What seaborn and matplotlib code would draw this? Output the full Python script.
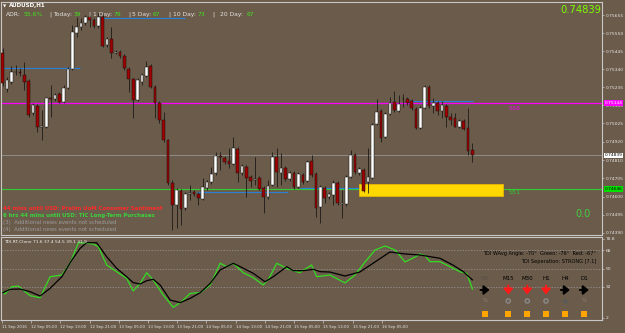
import matplotlib
matplotlib.use('Agg')
import matplotlib.pyplot as plt
import matplotlib.transforms as mtrans
from matplotlib.patches import Rectangle
import numpy as np
import pandas as pd
import seaborn as sns

# ---------------- data ----------------
symbol = 'AUDUSD,H1'
opens = [0.75436, 0.75226, 0.75267, 0.75325, 0.75327, 0.75307, 0.75273, 0.75086, 0.75127, 0.75005,
         0.75005, 0.75174, 0.75168, 0.75197, 0.75150, 0.75232, 0.75342, 0.75552, 0.75587, 0.75610,
         0.75645, 0.75628, 0.75593, 0.75645, 0.75482, 0.75517, 0.75436, 0.75441, 0.75418, 0.75342,
         0.75284, 0.75162, 0.75267, 0.75302, 0.75360, 0.75238, 0.75145, 0.75046, 0.74929, 0.74679,
         0.74551, 0.74632, 0.74533, 0.74615, 0.74627, 0.74615, 0.74586, 0.74650, 0.74685, 0.74737,
         0.74836, 0.74824, 0.74807, 0.74789, 0.74877, 0.74737, 0.74772, 0.74714, 0.74696, 0.74708,
         0.74650, 0.74597, 0.74667, 0.74830, 0.74737, 0.74766, 0.74702, 0.74737, 0.74656, 0.74726,
         0.74690, 0.74807, 0.74731, 0.74539, 0.74650, 0.74597, 0.74609, 0.74679, 0.74557, 0.74557,
         0.74714, 0.74842, 0.74737, 0.74755, 0.74685, 0.74708, 0.75022, 0.75098, 0.74947, 0.75081,
         0.75150, 0.75098, 0.75165, 0.75168, 0.75156, 0.75110, 0.74999, 0.75115, 0.75238, 0.75127,
         0.75145, 0.75098, 0.75127, 0.75063, 0.75057, 0.75005, 0.75040, 0.74999, 0.74871]
highs = [0.75465, 0.75296, 0.75360, 0.75366, 0.75348, 0.75383, 0.75284, 0.75145, 0.75139, 0.75104,
         0.75179, 0.75249, 0.75203, 0.75209, 0.75249, 0.75354, 0.75598, 0.75645, 0.75639, 0.75657,
         0.75657, 0.75639, 0.75668, 0.75663, 0.75529, 0.75587, 0.75453, 0.75453, 0.75430, 0.75354,
         0.75290, 0.75290, 0.75319, 0.75389, 0.75371, 0.75249, 0.75156, 0.75092, 0.74935, 0.74696,
         0.74650, 0.74644, 0.74627, 0.74667, 0.74638, 0.74627, 0.74708, 0.74696, 0.74772, 0.74859,
         0.74859, 0.74836, 0.74883, 0.74947, 0.74889, 0.74789, 0.74784, 0.74726, 0.74830, 0.74720,
         0.74661, 0.74696, 0.74859, 0.74883, 0.74854, 0.74778, 0.74749, 0.74749, 0.74743, 0.74737,
         0.74813, 0.74842, 0.74743, 0.74667, 0.74661, 0.74627, 0.74696, 0.74690, 0.74638, 0.74726,
         0.74871, 0.74854, 0.74772, 0.74766, 0.74883, 0.75028, 0.75168, 0.75110, 0.75092, 0.75179,
         0.75214, 0.75191, 0.75197, 0.75179, 0.75168, 0.75121, 0.75127, 0.75249, 0.75249, 0.75174,
         0.75156, 0.75156, 0.75139, 0.75086, 0.75086, 0.75052, 0.75052, 0.75115, 0.74912]
lows = [0.75244, 0.75209, 0.75255, 0.75307, 0.75302, 0.75220, 0.75063, 0.75075, 0.74976, 0.74929,
        0.74999, 0.75063, 0.75156, 0.75145, 0.75145, 0.75226, 0.75337, 0.75529, 0.75569, 0.75598,
        0.75587, 0.75581, 0.75581, 0.75470, 0.75470, 0.75406, 0.75430, 0.75406, 0.75337, 0.75209,
        0.75057, 0.75156, 0.75249, 0.75296, 0.75232, 0.75057, 0.75028, 0.74918, 0.74667, 0.74405,
        0.74417, 0.74435, 0.74522, 0.74580, 0.74603, 0.74551, 0.74580, 0.74638, 0.74673, 0.74726,
        0.74755, 0.74789, 0.74766, 0.74784, 0.74685, 0.74726, 0.74597, 0.74656, 0.74667, 0.74638,
        0.74504, 0.74586, 0.74661, 0.74656, 0.74667, 0.74690, 0.74690, 0.74644, 0.74650, 0.74673,
        0.74685, 0.74714, 0.74481, 0.74446, 0.74563, 0.74586, 0.74551, 0.74551, 0.74475, 0.74545,
        0.74708, 0.74731, 0.74726, 0.74627, 0.74621, 0.74702, 0.75017, 0.74918, 0.74941, 0.75075,
        0.75092, 0.75092, 0.75121, 0.75133, 0.75104, 0.74993, 0.74993, 0.75110, 0.75115, 0.75086,
        0.75075, 0.75057, 0.75005, 0.75017, 0.75005, 0.74999, 0.74987, 0.74842, 0.74801]
closes = [0.75261, 0.75278, 0.75325, 0.75327, 0.75319, 0.75267, 0.75075, 0.75133, 0.75005, 0.75011,
          0.75174, 0.75168, 0.75191, 0.75150, 0.75232, 0.75342, 0.75558, 0.75587, 0.75610, 0.75645,
          0.75628, 0.75593, 0.75645, 0.75476, 0.75517, 0.75436, 0.75441, 0.75418, 0.75348, 0.75284,
          0.75162, 0.75278, 0.75307, 0.75354, 0.75238, 0.75145, 0.75046, 0.74929, 0.74679, 0.74551,
          0.74638, 0.74527, 0.74615, 0.74621, 0.74615, 0.74592, 0.74656, 0.74685, 0.74731, 0.74836,
          0.74830, 0.74801, 0.74789, 0.74883, 0.74737, 0.74778, 0.74708, 0.74690, 0.74702, 0.74644,
          0.74597, 0.74661, 0.74830, 0.74743, 0.74766, 0.74702, 0.74737, 0.74656, 0.74731, 0.74685,
          0.74801, 0.74726, 0.74533, 0.74656, 0.74592, 0.74615, 0.74679, 0.74563, 0.74563, 0.74714,
          0.74842, 0.74743, 0.74760, 0.74632, 0.74714, 0.75017, 0.75092, 0.74941, 0.75081, 0.75145,
          0.75104, 0.75139, 0.75168, 0.75145, 0.75115, 0.74999, 0.75115, 0.75238, 0.75127, 0.75145,
          0.75098, 0.75133, 0.75063, 0.75046, 0.75005, 0.75040, 0.74993, 0.74865, 0.74839]

last_price = 0.74839
res_level = 0.75144
sup_level = 0.74646
zone_low, zone_high = 0.74603, 0.74673
zone_from, zone_to = 81.9, 115.0
res_label, sup_label = 'S38', 'S51'
blue_prices = [0.75639, 0.75350, 0.74627, 0.74650, 0.75158]
blue_from = [21.7, -0.6, 44.7, 68.4, 93.6]
blue_to = [41.9, 17.8, 65.6, 89.7, 108.1]

price_ticks = [0.75655, 0.75550, 0.75445, 0.75340, 0.75235, 0.75130, 0.75025,
               0.74920, 0.74810, 0.74705, 0.74600, 0.74495, 0.74390]
time_labels = ['11 Sep 2016', '12 Sep 05:00', '12 Sep 13:00', '12 Sep 21:00', '13 Sep 05:00',
               '13 Sep 13:00', '13 Sep 21:00', '14 Sep 05:00', '14 Sep 13:00', '14 Sep 21:00',
               '15 Sep 05:00', '15 Sep 13:00', '15 Sep 21:00', '16 Sep 05:00']

tdi_green_x = [0, 0.5, 2.1, 3.6, 4.7, 6.3, 8.6, 10.9, 13.6, 15.5, 17.4, 19.3, 20.8, 22.0, 23.9, 26.2,
               28.5, 30.0, 31.6, 33.1, 34.6, 36.9, 39.2, 41.1, 43.1, 45.4, 47.7, 50.0, 51.5, 53.0,
               55.3, 57.6, 59.9, 61.1, 63.0, 65.3, 68.3, 71.0, 72.2, 75.2, 78.7, 81.0, 83.3, 85.6,
               87.9, 90.2, 92.5, 94.8, 95.9, 97.1, 98.2, 100.5, 102.8, 105.1, 106.7, 108.0]
tdi_green = [27.4, 25.1, 32.3, 32.9, 29.0, 23.5, 21.5, 42.0, 43.7, 55.1, 75.2, 74.6, 73.9, 71.3, 53.4, 46.9,
             40.4, 28.1, 35.5, 45.9, 38.8, 24.2, 12.1, 17.6, 25.8, 26.4, 33.9, 55.1, 51.8, 55.1,
             45.9, 41.0, 33.9, 39.5, 55.1, 50.2, 45.9, 53.4, 42.0, 43.7, 35.9, 43.7, 56.4, 68.1,
             72.0, 68.1, 56.4, 61.2, 64.2, 62.5, 56.7, 56.7, 51.8, 46.9, 45.3, 29.7]
tdi_black_x = [0, 1.7, 4.0, 6.3, 8.6, 10.9, 13.6, 15.9, 17.8, 19.3, 21.6, 23.9, 26.2, 28.5, 30.0, 31.6,
               33.1, 34.6, 36.2, 38.5, 40.8, 43.1, 45.4, 47.7, 50.0, 53.0, 54.6, 57.6, 60.3, 62.2,
               65.3, 66.8, 69.1, 71.4, 73.0, 75.2, 78.7, 82.1, 85.6, 89.0, 92.5, 95.9, 100.5, 103.5,
               105.9, 108.0]
tdi_black = [26.4, 29.7, 30.0, 27.4, 23.2, 30.7, 42.0, 58.3, 69.7, 75.2, 75.2, 61.5, 50.2, 42.0, 36.2, 34.9,
             38.1, 39.5, 33.9, 19.3, 16.7, 20.9, 26.4, 35.5, 48.6, 55.1, 51.8, 45.3, 37.1, 42.0,
             51.8, 47.9, 47.9, 49.2, 46.9, 46.6, 42.7, 46.6, 56.4, 66.1, 64.2, 63.2, 60.0, 53.4,
             46.9, 38.8]
tdi_levels = [68, 50, 32]
tdi_ticks = [78.8, 68, 50, 32, 2]
tdi_title = 'TDI-RT-Clone 71.6 37.4 54.5 39.1 31.9'
tdi_angle_text = 'TDI WAvg Angle: -70°  Green: -76°  Red: -67°'
tdi_sep_text = 'TDI Seperation: STRONG [7.1]'
timeframes = ['M5', 'M15', 'M30', 'H1', 'H4', 'D1']
tf_trend = ['flat', 'down', 'down', 'down', 'flat', 'flat']

adr_labels = ['ADR:', 'Today:', '1 Day:', '5 Day:', '10 Day:', '20 Day:']
adr_values = ['55.6%', '39', '79', '67', '73', '67']
news_lines = ['44 mins until USD: Prelim UoM Consumer Sentiment',
              '6 hrs 44 mins until USD: TIC Long-Term Purchases',
              '(3)  Additional news events not scheduled',
              '(4)  Additional news events not scheduled']
news_colors = ['#ff2a2a', '#3cd23c', '#9c9c9c', '#9c9c9c']
balance_text = '0.0'

# ---------------- style ----------------
W, H = 625, 333
BG = '#6b5b4a'
FRAME = '#c8c8c8'
sns.set_theme(style='dark', rc={'axes.facecolor': BG, 'figure.facecolor': BG})
plt.rcParams['font.family'] = ['DejaVu Sans']

fig = plt.figure(figsize=(6.25, 3.33), dpi=100)
fig.patch.set_facecolor(BG)


def rect(x0, y0, x1, y1):
    return [x0 / W, 1 - y1 / H, (x1 - x0) / W, (y1 - y0) / H]


def T(x, y, s, **kw):
    kw.setdefault('va', 'center')
    return fig.text(x / W, 1 - y / H, s, **kw)


ax = fig.add_axes(rect(1, 1.5, 602, 234.5))
sub = fig.add_axes(rect(1, 236.7, 602, 320))
XL = (-0.39, 137.77)

for a in (ax, sub):
    a.set_facecolor(BG)
    a.grid(False)
    a.set_xlim(*XL)
    for s in a.spines.values():
        s.set_visible(True)
        s.set_color(FRAME)
        s.set_linewidth(0.8)

# ---------------- main chart ----------------
df = pd.DataFrame({'o': opens, 'h': highs, 'l': lows, 'c': closes})
df['i'] = np.arange(len(df))
up = df['c'] >= df['o']
ax.set_ylim(0.74379, 0.75735)

ax.axhline(res_level, color='#ff00ff', lw=0.9, zorder=1)
ax.axhline(last_price, color='#8c8c8c', lw=0.7, zorder=1)
ax.axhline(sup_level, color='#32cd32', lw=0.8, zorder=1)
ax.hlines(blue_prices, blue_from, blue_to, color='#2a80d8', lw=0.8, zorder=1)
ax.add_patch(Rectangle((zone_from, zone_low), zone_to - zone_from, zone_high - zone_low,
                       facecolor='#ffd700', edgecolor='#e6b800', lw=0.6, zorder=2))

ax.vlines(df['i'], df['l'], df['h'], color='#141414', lw=0.55, zorder=3)
body = (df['c'] - df['o']).abs().clip(lower=0.000015)
ax.bar(df['i'], body, bottom=df[['o', 'c']].min(axis=1), width=0.62,
       color=np.where(up, '#ffffff', '#a00000'), edgecolor='#141414', linewidth=0.35, zorder=4)

ax.text(116.4, 0.75115, res_label, color='#ff00ff', fontsize=4.6, va='center', zorder=5)
ax.text(116.4, 0.74621, sup_label, color='#32cd32', fontsize=4.6, va='center', zorder=5)

ax.yaxis.tick_right()
ax.set_yticks(price_ticks)
ax.set_yticklabels([f'{p:.5f}' for p in price_ticks])
ax.tick_params(axis='y', right=True, left=False, length=1.5, width=0.5, color=FRAME,
               labelsize=3.2, labelcolor='#e6e6e6', pad=1)
ax.set_xticks([])
ax.set_xlabel('')
ax.set_ylabel('')

trans = mtrans.blended_transform_factory(ax.transAxes, ax.transData)
for lvl, fc, tc in [(res_level, '#ff00ff', '#ffffff'), (last_price, '#ffffff', '#000000'),
                    (sup_level, '#00e000', '#000000')]:
    ax.text(1.004, lvl, f'{lvl:.5f}', transform=trans, fontsize=3.2, color=tc, va='center',
            ha='left', clip_on=False, zorder=10,
            bbox=dict(boxstyle='square,pad=0.2', fc=fc, ec='none'))

# ---------------- TDI sub window ----------------
sub.set_ylim(-0.22, 81.04)
for lv in tdi_levels:
    sub.axhline(lv, color='#9a9a9a', lw=0.5, ls=(0, (2, 2)), zorder=1)
gdf = pd.DataFrame({'bar': tdi_green_x, 'value': tdi_green})
bdf = pd.DataFrame({'bar': tdi_black_x, 'value': tdi_black})
sns.lineplot(data=gdf, x='bar', y='value', ax=sub, color='#33dd22', lw=0.9, zorder=3)
sns.lineplot(data=bdf, x='bar', y='value', ax=sub, color='#000000', lw=0.9, zorder=4)
sub.set_xlabel('')
sub.set_ylabel('')
sub.yaxis.tick_right()
sub.set_yticks(tdi_ticks)
sub.set_yticklabels([f'{t:g}' for t in tdi_ticks])
sub.tick_params(axis='y', right=True, left=False, length=1.5, width=0.5, color=FRAME,
                labelsize=3.2, labelcolor='#e6e6e6', pad=1)
tick_pos = np.arange(len(time_labels)) * 6.72 - 0.2
sub.set_xticks(tick_pos)
sub.set_xticklabels(time_labels)
sub.tick_params(axis='x', bottom=True, length=2, width=0.5, color=FRAME,
                labelsize=2.75, labelcolor='#e6e6e6', pad=1.5)
for lbl in sub.get_xticklabels():
    lbl.set_ha('left')

# ---------------- overlay (pixel coordinates) for the panel widgets ----------------
ov = fig.add_axes([0, 0, 1, 1], facecolor='none')
ov.set_xlim(0, W)
ov.set_ylim(H, 0)
ov.axis('off')

# ---------------- texts ----------------
T(3, 6, '▼', fontsize=3, color='white')
T(9, 6, symbol, fontsize=4, color='white', fontweight='bold')
lab_x = [6, 53, 93, 132, 173, 220]
val_x = [24, 74, 114, 153, 198, 247]
bar_x = [49, 88, 128, 168, 212]
for lx, vx, l, v in zip(lab_x, val_x, adr_labels, adr_values):
    T(lx, 14.5, l, fontsize=4.3, color='#e4e4e4')
    T(vx, 14.5, v, fontsize=4.3, color='#44e020')
for bx in bar_x:
    T(bx, 14.5, '|', fontsize=4.3, color='#e4e4e4')

T(601, 10, f'{last_price:.5f}', fontsize=7.2, color='#7cfc00', ha='right')
T(591, 214, balance_text, fontsize=7, color='#40d040', ha='right')

for k, (line, col) in enumerate(zip(news_lines, news_colors)):
    T(3, 209 + k * 6.7, line, fontsize=3.9, color=col,
      fontweight='bold' if k < 2 else 'normal')

T(4, 241.7, tdi_title, fontsize=3.2, color='#f0f0f0')
T(596, 254, tdi_angle_text, fontsize=3.6, color='#000000', ha='right')
T(596, 261, tdi_sep_text, fontsize=3.6, color='#000000', ha='right')

arrow_style = dict(arrowstyle='-|>,head_length=0.55,head_width=0.45', lw=1.4,
                   mutation_scale=6, shrinkA=0, shrinkB=0)
tf_x = [485, 508.3, 527.3, 546, 565.3, 584.3]
for k, (tf, tr) in enumerate(zip(timeframes, tf_trend)):
    x = tf_x[k]
    T(x, 278, tf, fontsize=4, color='#5a5048' if k == 0 else '#000000', ha='center')
    if tr == 'down':
        ov.annotate('', xy=(x, 294.5), xytext=(x, 285.5),
                    arrowprops=dict(color='#ff1a1a', **arrow_style))
    else:
        ov.annotate('', xy=(x + 4.5, 290), xytext=(x - 4.5, 290),
                    arrowprops=dict(color='#000000', **arrow_style))
    if k in (0, 5):
        T(x, 301, '%', fontsize=4, color='#8a8078', ha='center')
    elif k == 4:
        ov.scatter([x], [301], s=9, color='#5a5a5a', linewidths=0)
    else:
        ov.scatter([x], [301], s=9, facecolor='none', edgecolor='#8a8a8a', linewidths=1.0)
    ov.scatter([x], [314], s=15, marker='s', color='#ffa500', linewidths=0)

fig.savefig('out.png', dpi=100, facecolor=BG)
